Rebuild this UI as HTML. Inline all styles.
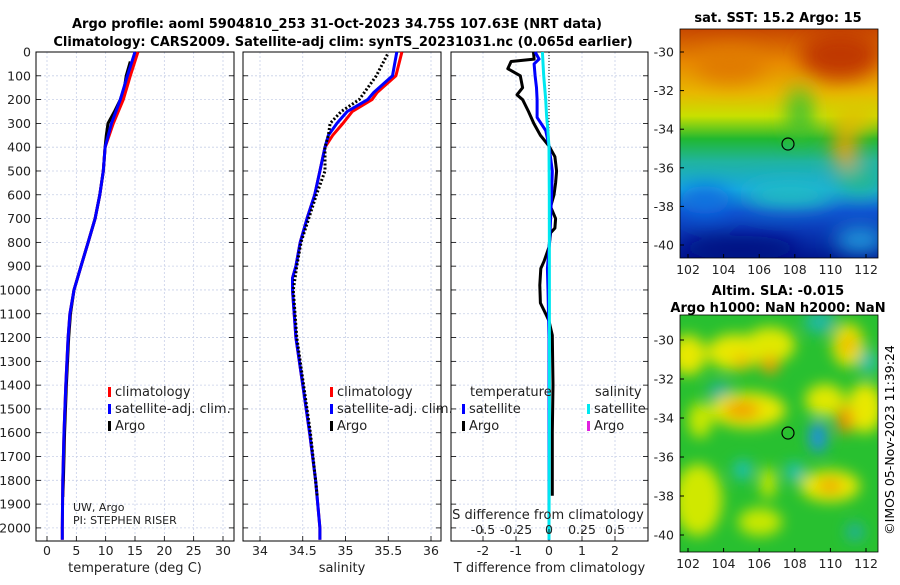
<!DOCTYPE html>
<html><head><meta charset="utf-8"><style>
body{margin:0;background:#fff;width:900px;height:580px;overflow:hidden}
svg{font-family:"DejaVu Sans","Liberation Sans",sans-serif}
</style></head><body>
<svg id="fig" width="900" height="580" viewBox="0 0 900 580">
<defs>
<filter id="blur6" x="-100%" y="-100%" width="300%" height="300%"><feGaussianBlur stdDeviation="7"/></filter>
<filter id="blur10" x="-50%" y="-50%" width="200%" height="200%"><feGaussianBlur stdDeviation="10"/></filter>
<linearGradient id="sstg" x1="0" y1="0" x2="0" y2="1">
<stop offset="0" stop-color="#c84800"/><stop offset="0.15" stop-color="#e88a00"/><stop offset="0.28" stop-color="#e8b800"/><stop offset="0.38" stop-color="#c8e000"/><stop offset="0.48" stop-color="#20b830"/><stop offset="0.58" stop-color="#20b4a0"/><stop offset="0.7" stop-color="#18a8e0"/><stop offset="0.8" stop-color="#1050d0"/><stop offset="1" stop-color="#001890"/>
</linearGradient>
<clipPath id="c1"><rect x="680" y="29" width="198" height="229"/></clipPath>
<clipPath id="c2"><rect x="680" y="315" width="198" height="237"/></clipPath>
</defs>
<g font-weight="bold" font-size="13" text-anchor="middle">
<text x="337" y="28">Argo profile: aoml 5904810_253 31-Oct-2023 34.75S 107.63E (NRT data)</text>
<text x="343" y="46">Climatology: CARS2009. Satellite-adj clim: synTS_20231031.nc (0.065d earlier)</text>
</g>
<g id="plots"></g>
<!-- maps -->
<g clip-path="url(#c1)">
<rect x="680" y="29" width="198" height="229" fill="url(#sstg)"/>
<g filter="url(#blur10)">
<ellipse cx="840" cy="55" rx="40" ry="25" fill="#c03800"/>
<ellipse cx="730" cy="65" rx="35" ry="18" fill="#e07a00"/>
<ellipse cx="800" cy="115" rx="12" ry="28" fill="#40c030"/>
<ellipse cx="845" cy="148" rx="12" ry="20" fill="#f0a000"/>
<ellipse cx="855" cy="118" rx="25" ry="12" fill="#e0c000"/>
<ellipse cx="860" cy="180" rx="25" ry="15" fill="#20b890"/>
<ellipse cx="790" cy="195" rx="45" ry="12" fill="#20c0c0"/>
<ellipse cx="705" cy="200" rx="25" ry="14" fill="#1070e0"/>
<ellipse cx="860" cy="240" rx="25" ry="12" fill="#20a0e0"/>
<ellipse cx="740" cy="248" rx="60" ry="12" fill="#001080"/>
</g>
<circle cx="788" cy="144" r="6" fill="none" stroke="#000" stroke-width="1.2"/>
</g>
<rect x="680" y="29" width="198" height="229" fill="none" stroke="#000" stroke-width="0.8"/>
<g clip-path="url(#c2)">
<rect x="680" y="315" width="198" height="237" fill="#28c030"/>
<g filter="url(#blur6)">
<ellipse cx="688" cy="355" rx="18" ry="20" fill="#e8e800"/>
<ellipse cx="735" cy="352" rx="28" ry="18" fill="#e8e800"/>
<ellipse cx="770" cy="345" rx="25" ry="18" fill="#e0e800"/>
<ellipse cx="770" cy="365" rx="9" ry="9" fill="#f0a000"/>
<ellipse cx="742" cy="362" rx="9" ry="8" fill="#f0c000"/>
<ellipse cx="848" cy="345" rx="16" ry="22" fill="#e8e000"/>
<ellipse cx="848" cy="345" rx="6" ry="7" fill="#f0a000"/>
<ellipse cx="820" cy="322" rx="16" ry="12" fill="#20b8a0"/>
<ellipse cx="868" cy="362" rx="9" ry="12" fill="#30c0b0"/>
<ellipse cx="720" cy="392" rx="12" ry="10" fill="#20b0a0"/>
<ellipse cx="748" cy="410" rx="38" ry="18" fill="#e8e800"/>
<ellipse cx="742" cy="410" rx="18" ry="9" fill="#f0a000"/>
<ellipse cx="825" cy="400" rx="20" ry="16" fill="#e0e800"/>
<ellipse cx="865" cy="408" rx="18" ry="25" fill="#e8e800"/>
<ellipse cx="845" cy="420" rx="8" ry="14" fill="#f09000"/>
<ellipse cx="818" cy="437" rx="9" ry="16" fill="#2090e0"/>
<ellipse cx="743" cy="470" rx="10" ry="10" fill="#20c0b0"/>
<ellipse cx="795" cy="472" rx="10" ry="10" fill="#20c0b0"/>
<ellipse cx="830" cy="486" rx="30" ry="16" fill="#e8e800"/>
<ellipse cx="830" cy="486" rx="12" ry="7" fill="#f0a000"/>
<ellipse cx="698" cy="500" rx="24" ry="36" fill="#d0e800"/>
<ellipse cx="760" cy="522" rx="22" ry="14" fill="#c8e800"/>
<ellipse cx="855" cy="532" rx="9" ry="9" fill="#20b0a0"/>
<ellipse cx="768" cy="483" rx="8" ry="16" fill="#c8e800"/>
<ellipse cx="700" cy="420" rx="12" ry="18" fill="#c8e800"/>
</g>
<circle cx="788" cy="433" r="6" fill="none" stroke="#000" stroke-width="1.2"/>
</g>
<rect x="680" y="315" width="198" height="237" fill="none" stroke="#000" stroke-width="0.8"/>
<g font-weight="bold" font-size="13" text-anchor="middle">
<text x="778" y="22">sat. SST: 15.2 Argo: 15</text>
<text x="778" y="295">Altim. SLA: -0.015</text>
<text x="778" y="312">Argo h1000: NaN h2000: NaN</text>
</g>
<text transform="translate(894,440) rotate(-90)" font-size="12.5" text-anchor="middle">©IMOS 05-Nov-2023 11:39:24</text>
<g id="maps"></g>
</svg>
<script>
// ---- data ----
const tDepth = [0,100,200,300,400,500,600,700,800,900,1000,1100,1200,1400,1600,1800,2000,2050];
const tClim  = [15.5,14.2,13.0,11.3,9.9,9.6,9.0,8.2,7.0,5.8,4.6,3.9,3.6,3.2,2.9,2.7,2.6,2.6];
const tSat   = [15.0,13.7,12.5,11.0,9.9,9.6,9.0,8.2,7.0,5.8,4.6,3.9,3.6,3.2,2.9,2.7,2.6,2.6];
const argoTDepth = [40,100,150,200,250,300,350,400,500,600,700,800,900,1000,1100,1200,1400,1600,1800,1870];
const argoT      = [14.2,13.5,13.2,12.5,11.5,10.4,10.1,9.9,9.6,9.0,8.2,7.0,5.8,4.6,4.0,3.7,3.3,3.0,2.8,2.7];
const sDepth = [0,100,170,200,250,300,350,400,500,600,700,800,900,950,1000,1200,1400,1600,1800,2000,2050];
const sClim  = [35.66,35.59,35.37,35.31,35.08,34.97,34.85,34.76,34.70,34.64,34.55,34.47,34.42,34.38,34.38,34.42,34.50,34.58,34.65,34.70,34.70];
const sSat   = [35.60,35.55,35.33,35.26,35.02,34.90,34.80,34.76,34.70,34.64,34.55,34.47,34.42,34.38,34.38,34.42,34.50,34.58,34.65,34.70,34.70];
const argoSDepth = [10,100,200,250,300,350,400,500,600,700,800,900,1000,1200,1400,1600,1800,1870];
const argoS      = [35.49,35.36,35.16,34.95,34.82,34.80,34.76,34.76,34.66,34.57,34.48,34.43,34.39,34.43,34.51,34.59,34.65,34.67];
const dTArgoDepth = [0,30,40,70,100,150,180,200,250,300,350,395,440,500,550,600,650,700,740,760,820,880,910,980,1055,1100,1130,1190,1400,1600,1865];
const dTArgo      = [-0.47,-0.45,-1.15,-1.25,-0.87,-0.8,-0.97,-0.8,-0.62,-0.46,-0.26,0.0,0.18,0.23,0.2,0.15,0.05,0.2,0.18,0.05,0.0,-0.15,-0.25,-0.28,-0.26,-0.1,0.0,0.1,0.12,0.1,0.1];
const dTSatDepth = [0,30,50,100,150,200,275,330,395,500,600,700,790,910,1000,1200,1600,2000,2050];
const dTSat      = [-0.42,-0.3,-0.45,-0.42,-0.38,-0.36,-0.36,-0.1,0.0,0.1,0.08,0.05,0.02,-0.05,-0.03,0.0,0.0,0.0,0.0];
const dSSatDepth = [0,100,200,270,330,400,600,1000,1500,2000,2050];
const dSSat      = [-0.05,-0.04,-0.025,-0.018,-0.008,0.0,0.002,0.003,0.003,0.0,0.0];
const depthTicks = [0,100,200,300,400,500,600,700,800,900,1000,1100,1200,1300,1400,1500,1600,1700,1800,1900,2000];
const tempTicks = [0,5,10,15,20,25,30];
const salTicks = [34,34.5,35,35.5,36];
const salTickLabels = ['34','34.5','35','35.5','36'];
const dTTicks = [-2,-1,0,1,2];
const dSTicks = [-0.5,-0.25,0,0.25,0.5];
const latTicks = [-30,-32,-34,-36,-38,-40];
const lonTicks = [102,104,106,108,110,112];

const NS='http://www.w3.org/2000/svg';
const plots=document.getElementById('plots');
function mk(tag,attrs,parent){const e=document.createElementNS(NS,tag);for(const k in attrs)e.setAttribute(k,attrs[k]);(parent||plots).appendChild(e);return e;}
const Y0=52, Y1=541, DMAX=2055;
const yD = d => Y0 + d*(Y1-Y0)/DMAX;
function lin(d0,d1,p0,p1){return v=>p0+(v-d0)*(p1-p0)/(d1-d0);}
const panels=[
 {x0:36,x1:234,sx:lin(0,30,47,223),ticks:tempTicks,labels:tempTicks.map(String),title:'temperature (deg C)',name:'temperature'},
 {x0:243,x1:441,sx:lin(34,36,260,431),ticks:salTicks,labels:salTickLabels,title:'salinity',name:'salinity'},
 {x0:451,x1:648,sx:lin(-2,2,483,615),ticks:dTTicks,labels:dTTicks.map(String),title:'T difference from climatology',name:'difference'}
];
panels.forEach((p,i)=>{
 const g=mk('g',{});
 
 
 depthTicks.forEach(d=>{ if(d>0) mk('line',{x1:p.x0,x2:p.x1,y1:yD(d),y2:yD(d),stroke:'#c8d0e8','stroke-width':0.8,'stroke-dasharray':'2,2'},g);
   mk('line',{x1:p.x0,x2:p.x0+5,y1:yD(d),y2:yD(d),stroke:'#000','stroke-width':0.8},g);
   mk('line',{x1:p.x1-5,x2:p.x1,y1:yD(d),y2:yD(d),stroke:'#000','stroke-width':0.8},g);});
 p.ticks.forEach((t,k)=>{const x=p.sx(t);
   mk('line',{x1:x,x2:x,y1:Y0,y2:Y1,stroke:'#c8d0e8','stroke-width':0.8,'stroke-dasharray':'2,2'},g);
   mk('line',{x1:x,x2:x,y1:Y1-5,y2:Y1,stroke:'#000','stroke-width':0.8},g);
   const tl=mk('text',{x:x,y:555,'font-size':12.5,'text-anchor':'middle',fill:'#222'},g);tl.textContent=p.labels[k];
   
   });
 mk('rect',{x:p.x0,y:Y0,width:p.x1-p.x0,height:Y1-Y0,fill:'none',stroke:'#000','stroke-width':1},g);
 const tt=mk('text',{x:(p.x0+p.x1)/2,y:572,'font-size':13,'text-anchor':'middle',fill:'#222'},g);tt.textContent=p.title;
 
 
});
depthTicks.forEach(d=>{const t=mk('text',{x:31,y:yD(d)+4.5,'font-size':12.5,'text-anchor':'end',fill:'#222'});t.textContent=String(d);
 
 });
function line(depths,vals,sx,color,w,name,dash){
 const pts=depths.map((d,i)=>sx(vals[i]).toFixed(1)+','+yD(d).toFixed(1)).join(' ');
 const a={points:pts,fill:'none',stroke:color,'stroke-width':w,'stroke-linejoin':'round'};
 if(dash)a['stroke-dasharray']=dash;
 const e=mk('polyline',a);
 
 
}
const P=panels;
line(argoTDepth,argoT,P[0].sx,'#000',3,'temperature-argo-line');
line(tDepth,tClim,P[0].sx,'#f00',3,'temperature-climatology-line');
line(tDepth,tSat,P[0].sx,'#00f',3,'temperature-satellite-line');
line(sDepth,sClim,P[1].sx,'#f00',3,'salinity-climatology-line');
line(sDepth,sSat,P[1].sx,'#00f',3,'salinity-satellite-line');
line(argoSDepth,argoS,P[1].sx,'#000',3,'salinity-argo-line','2,2');
mk('line',{x1:P[2].sx(0),x2:P[2].sx(0),y1:Y0,y2:Y1,stroke:'#000','stroke-width':1,'stroke-dasharray':'1,2'});
line(dTArgoDepth,dTArgo,P[2].sx,'#000',3,'temperature-diff-argo-line');
line(dTSatDepth,dTSat,P[2].sx,'#00f',3,'temperature-diff-satellite-line');
const sxS = v=>P[2].sx(v*4);
line(dSSatDepth,dSSat,sxS,'#00e8f0',3,'salinity-diff-satellite-line');
dSTicks.forEach(t=>{const x=sxS(t);mk('line',{x1:x,x2:x,y1:Y1-12,y2:Y1-8,stroke:'#000','stroke-width':0.8});
 const l=mk('text',{x:x,y:534,'font-size':12.5,'text-anchor':'middle',fill:'#222'});l.textContent=String(t);
 
 });
const st=mk('text',{x:548,y:519,'font-size':13,'text-anchor':'middle',fill:'#222'});st.textContent='S difference from climatology';


function legend(x,y,color,label,name){
 mk('rect',{x:x,y:y-9,width:3,height:10,fill:color});
 const t=mk('text',{x:x+7,y:y,'font-size':13,fill:'#222'});t.textContent=label;
 
 
}
legend(108,396,'#f00','climatology','legend-climatology');
legend(108,413,'#00f','satellite-adj. clim.','legend-satellite-adj');
legend(108,430,'#000','Argo','legend-argo');
legend(330,396,'#f00','climatology','legend-climatology-s');
legend(330,413,'#00f','satellite-adj. clim.','legend-satellite-adj-s');
legend(330,430,'#000','Argo','legend-argo-s');
const th=mk('text',{x:470,y:396,'font-size':13,fill:'#222'});th.textContent='temperature';


const sh=mk('text',{x:595,y:396,'font-size':13,fill:'#222'});sh.textContent='salinity';


legend(462,413,'#00f','satellite','legend-t-satellite');
legend(462,430,'#000','Argo','legend-t-argo');
legend(587,413,'#00e8f0','satellite','legend-s-satellite');
legend(587,430,'#e020e0','Argo','legend-s-argo');
const u1=mk('text',{x:73,y:511,'font-size':11,fill:'#222'});u1.textContent='UW, Argo';


const u2=mk('text',{x:73,y:524,'font-size':11,fill:'#222'});u2.textContent='PI: STEPHEN RISER';


const maps=document.getElementById('maps');
const mapDefs=[{x0:680,x1:878,y0:29,y1:258,lat:lin(-30,-40,52,245),lon:lin(102,112,688,866),ly:274,n:'sst'},
 {x0:680,x1:878,y0:315,y1:552,lat:lin(-30,-40,340,535),lon:lin(102,112,688,866),ly:568,n:'sla'}];
mapDefs.forEach(m=>{
 latTicks.forEach(t=>{const y=m.lat(t);mk('line',{x1:m.x0,x2:m.x0+4,y1:y,y2:y,stroke:'#000'},maps);
  const l=mk('text',{x:674,y:y+4.5,'font-size':12.5,'text-anchor':'end',fill:'#222'},maps);l.textContent=String(t);
  
  });
 lonTicks.forEach(t=>{const x=m.lon(t);mk('line',{x1:x,x2:x,y1:m.y1-4,y2:m.y1,stroke:'#000'},maps);
  const l=mk('text',{x:x,y:m.ly,'font-size':12.5,'text-anchor':'middle',fill:'#222'},maps);l.textContent=String(t);
  
  });
});
</script>
</body></html>
